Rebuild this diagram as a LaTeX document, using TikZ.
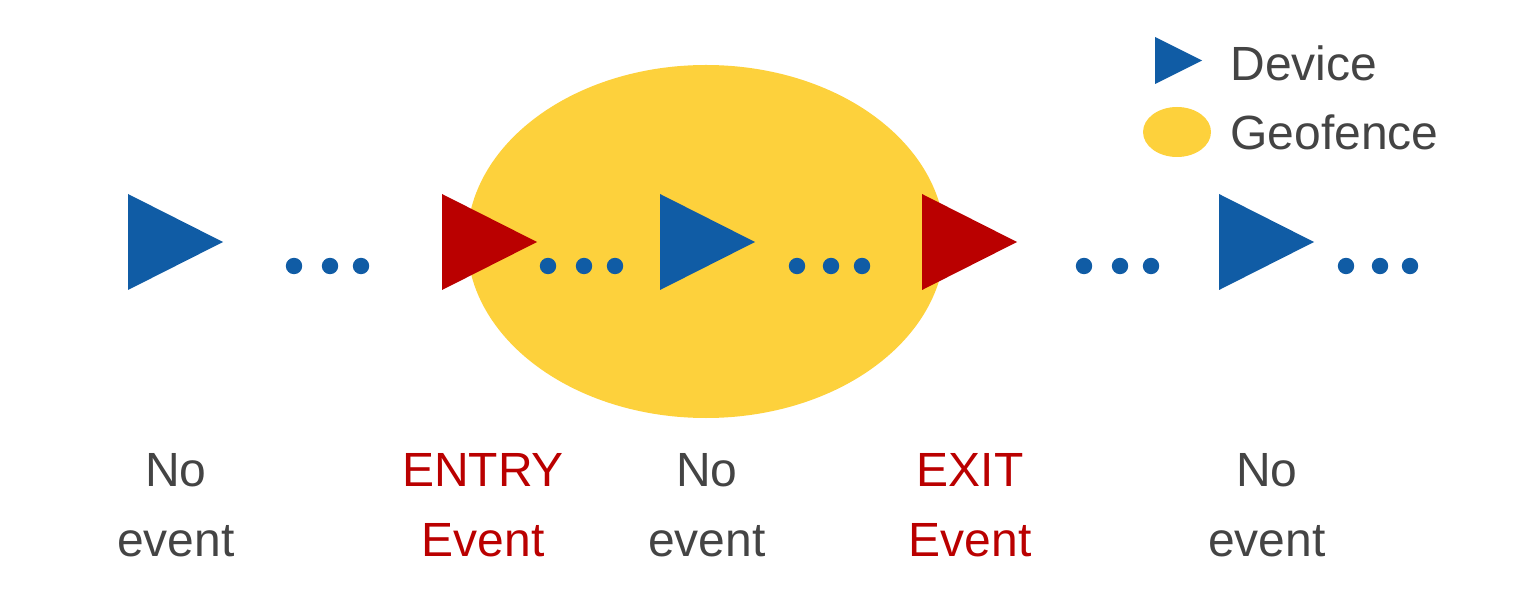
\documentclass[tikz,border=0pt]{standalone}
\usepackage{fontspec}
\setmainfont{Liberation Sans}
\definecolor{devblue}{HTML}{105CA5}
\definecolor{evred}{HTML}{BA0000}
\definecolor{fenceyel}{HTML}{FDD13C}
\definecolor{txtgray}{HTML}{444444}
\tikzset{
  lbl/.style={font=\fontsize{24}{35}\selectfont, align=center, inner sep=0pt, anchor=center},
  graylbl/.style={lbl, text=txtgray},
  redlbl/.style={lbl, text=evred},
  dotfill/.style={fill=devblue},
}
\newcommand{\devtri}[3]{\fill[#3] (#1,#2-48) -- (#1+95,#2) -- (#1,#2+48) -- cycle;}
\newcommand{\dotgroup}[3]{\fill[dotfill] (#1,266) circle (8.2) (#2,266) circle (8.2) (#3,266) circle (8.2);}
\begin{document}
\begin{tikzpicture}[x=0.5pt,y=-0.5pt]
\useasboundingbox (0,0) rectangle (1534,598);
% geofence
\fill[fenceyel] (706,241.5) ellipse [x radius=239, y radius=176.5];
% devices
\devtri{128}{242}{devblue}
\devtri{442}{242}{evred}
\devtri{660}{242}{devblue}
\devtri{922}{242}{evred}
\devtri{1219}{242}{devblue}
% dots
\dotgroup{294}{330}{361}
\dotgroup{548}{584}{615}
\dotgroup{797}{831}{862}
\dotgroup{1084}{1120}{1151}
\dotgroup{1346}{1380}{1410}
% legend
\fill[devblue] (1155,37) -- (1202,60.5) -- (1155,84) -- cycle;
\fill[fenceyel] (1177,132) ellipse [x radius=34, y radius=25];
\node[graylbl, anchor=west] (legdev) at (1230,63) {Device};
\node[graylbl, anchor=west] (leggeo) at (1230,132) {Geofence};
% labels
\node[graylbl] (l1) at (176,505) {No\\event};
\node[redlbl] (l2) at (483,505) {ENTRY\\Event};
\node[graylbl] (l3) at (707,505) {No\\event};
\node[redlbl] (l4) at (970,505) {EXIT\\Event};
\node[graylbl] (l5) at (1267,505) {No\\event};
\end{tikzpicture}
\end{document}
